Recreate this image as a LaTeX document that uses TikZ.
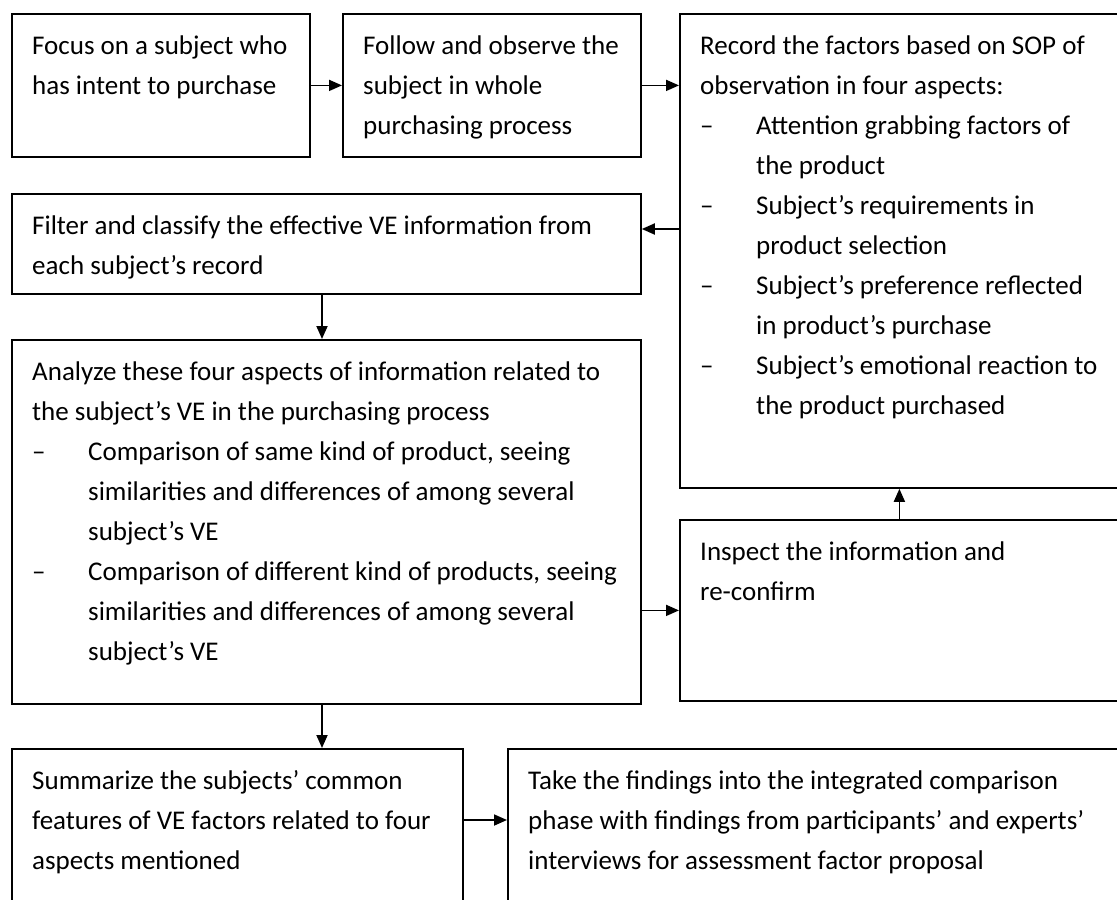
\documentclass[tikz,border=0pt]{standalone}
\usepackage{fontspec}
\setmainfont{Carlito}
\usetikzlibrary{arrows.meta,calc}
\newcommand{\bl}{\makebox[56pt][l]{–}}
\newcommand{\ind}{\hspace*{56pt}}
\begin{document}
\begin{tikzpicture}[x=1pt,y=-1pt,
  box/.style={draw, line width=1.8pt, rectangle, inner sep=0pt, anchor=north west},
  txt/.style={anchor=north west, inner sep=0pt, align=left, font=\fontsize{27}{40}\selectfont},
  flow/.style={-{Triangle[length=13pt,width=11pt]}, line width=1.8pt}]
\useasboundingbox (0,0) rectangle (1117,900);
\clip (0,0) rectangle (1117,900);

% process boxes (the right-hand column runs off the page edge)
\node[box, minimum width=298pt, minimum height=143pt] (b1) at (11,13) {};
\node[box, minimum width=298pt, minimum height=143pt] (b2) at (342,13) {};
\node[box, minimum width=439pt, minimum height=474pt] (b3) at (679,13) {};
\node[box, minimum width=629pt, minimum height=100pt] (b4) at (11,193) {};
\node[box, minimum width=629pt, minimum height=364pt] (b5) at (11,339) {};
\node[box, minimum width=439pt, minimum height=181pt] (b6) at (679,519) {};
\node[box, minimum width=451pt, minimum height=220pt] (b7) at (11,748) {};
\node[box, minimum width=611pt, minimum height=220pt] (b8) at (507,748) {};

% box texts
\node[txt] (t1) at ([shift={(21,13)}]b1.north west)
  {\strut Focus on a subject who\\has intent to purchase};
\node[txt] (t2) at ([shift={(21,13)}]b2.north west)
  {\strut Follow and observe the\\subject in whole\\purchasing process};
\node[txt] (t3) at ([shift={(21,13)}]b3.north west)
  {\strut Record the factors based on SOP of\\observation in four aspects:\\
   \bl Attention grabbing factors of\\\ind the product\\
   \bl Subject’s requirements in\\\ind product selection\\
   \bl Subject’s preference reflected\\\ind in product’s purchase\\
   \bl Subject’s emotional reaction to\\\ind the product purchased};
\node[txt] (t4) at ([shift={(21,13)}]b4.north west)
  {\strut Filter and classify the effective VE information from\\each subject’s record};
\node[txt] (t5) at ([shift={(21,13)}]b5.north west)
  {\strut Analyze these four aspects of information related to\\the subject’s VE in the purchasing process\\
   \bl Comparison of same kind of product, seeing\\\ind similarities and differences of among several\\\ind subject’s VE\\
   \bl Comparison of different kind of products, seeing\\\ind similarities and differences of among several\\\ind subject’s VE};
\node[txt] (t6) at ([shift={(21,13)}]b6.north west)
  {\strut Inspect the information and\\re-confirm};
\node[txt] (t7) at ([shift={(21,13)}]b7.north west)
  {\strut Summarize the subjects’ common\\features of VE factors related to four\\aspects mentioned};
\node[txt] (t8) at ([shift={(21,13)}]b8.north west)
  {\strut Take the findings into the integrated comparison\\phase with findings from participants’ and experts’\\interviews for assessment factor proposal};

% connector guides
\coordinate (ya) at (0,229);
\coordinate (xa) at (322,0);
\coordinate (yb) at (0,820);

% connectors
\draw[flow] (b1.east) -- (b1.east -| b2.west);
\draw[flow] (b2.east) -- (b2.east -| b3.west);
\draw[flow] (b3.west |- ya) -- (b4.east |- ya);
\draw[flow] (b4.south -| xa) -- (b5.north -| xa);
\draw[flow] (b6.north) -- (b3.south);
\draw[flow] (b6.west -| b5.east) -- (b6.west);
\draw[flow] (b5.south -| xa) -- (b7.north -| xa);
\draw[flow] (b7.east |- yb) -- (b8.west |- yb);
\end{tikzpicture}
\end{document}
